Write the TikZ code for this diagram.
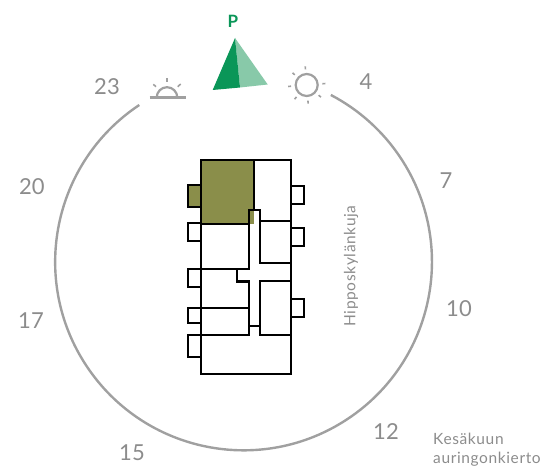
\documentclass[tikz,border=0pt]{standalone}
\usepackage{fontspec}
\setmainfont{Lato}
\newfontfamily\trk[LetterSpace=4]{Lato}
\definecolor{lbl}{HTML}{8C8C8C}
\definecolor{arcg}{HTML}{A0A0A0}
\definecolor{olive}{HTML}{8A8E4A}
\definecolor{gdark}{HTML}{0A9658}
\definecolor{glight}{HTML}{88C9A9}
\tikzset{
  num/.style={text=lbl,font=\fontsize{22}{22}\selectfont,inner sep=0pt},
  small/.style={text=lbl,font=\trk\fontsize{15.5}{19}\selectfont,inner sep=0pt},
  wall/.style={draw=black,line width=2.2pt,line cap=rect,line join=miter},
  ico/.style={draw=arcg,line width=2.2pt},
  tick/.style={draw=arcg,line width=1.6pt}
}
\begin{document}
\begin{tikzpicture}[x=1pt,y=-1pt]
\useasboundingbox (0,0) rectangle (546,468);
% sun path
\draw[arcg,line width=2.4pt] (243.7,262) ++(-104.4,-157) arc[start angle=236.4,end angle=-62.4,radius=188.4];
% labels
\node[num] (n23) at (107,87) {23};
\node[num] (n4) at (366,82) {4};
\node[num] (n7) at (446,181) {7};
\node[num] (n10) at (459,309) {10};
\node[num] (n12) at (386,432) {12};
\node[num] (n15) at (132,453) {15};
\node[num] (n17) at (31,321) {17};
\node[num] (n20) at (32,187) {20};
\node[small,anchor=base west] (kes) at (433,444) {Kesäkuun};
\node[small,anchor=base west] (aur) at (433,463) {auringonkierto};
\node[small,rotate=90] (street) at (351,266) {Hipposkylänkuja};
% north arrow
\node[text=gdark,font=\bfseries\fontsize{17}{17}\selectfont,inner sep=0pt] (p) at (233,21) {P};
\fill[glight] (235,38) -- (267.7,84.5) -- (240,87.5) -- cycle;
\fill[gdark] (235,38) -- (212.7,90) -- (240,87.5) -- cycle;
% sunrise
\draw[ico] (149.5,97.5) -- (186,97.5);
\draw[ico] (156.7,97.5) arc[start angle=180,end angle=360,radius=10.3];
\draw[tick] (167,78) -- (167,82);
\draw[tick] (153.3,84.3) -- (156,86.7);
\draw[tick] (180.7,84) -- (177.7,86.7);
% sun
\draw[ico] (306.7,85) circle[radius=11];
\foreach \a in {-4.5,40.5,...,310}
  \draw[tick] (306.7,85) ++(\a:15.7) -- ++(\a:3);
% plan
\fill[olive] (201,160) rectangle (254,224);
\fill[olive] (188,185) rectangle (201,207);
\draw[wall] (188,185) rectangle (201,207);
\draw[wall] (188,223) rectangle (201,241);
\draw[wall] (188,269) rectangle (201,287);
\draw[wall] (188,308) rectangle (201,323);
\draw[wall] (188,335) rectangle (201,357);
\draw[wall] (291,186) rectangle (304,204);
\draw[wall] (291,228) rectangle (304,246);
\draw[wall] (291,299) rectangle (304,317);
\draw[wall] (201,160) rectangle (291,374);
\draw[wall] (254,160) -- (254,210) -- (260,210) -- (260,263) -- (291,263);
\draw[wall] (260,221) -- (291,221);
\draw[wall] (201,224) -- (249,224) -- (249,210) -- (254,210);
\draw[wall] (249,224) -- (249,269) -- (201,269);
\draw[wall] (237,269) -- (237,281.5) -- (249,281.5) -- (249,335) -- (201,335);
\draw[wall] (201,308) -- (249,308);
\draw[wall] (291,281) -- (260,281) -- (260,335) -- (291,335);
\draw[wall] (249,326) -- (260,326);
\end{tikzpicture}
\end{document}
